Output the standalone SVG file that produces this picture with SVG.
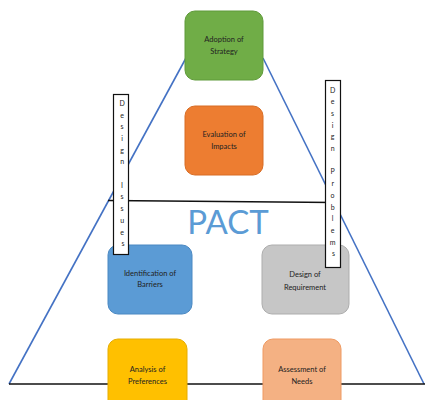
<svg xmlns="http://www.w3.org/2000/svg" width="425" height="400" viewBox="0 0 425 400">
  <style>
    .edge-blue { stroke: #4472c4; stroke-width: 1.6; fill: none; }
    .edge-black { stroke: #111; stroke-width: 1.6; fill: none; }
    .box { stroke-width: 1; }
    .label { font-family: "Lato", "Liberation Sans", sans-serif; font-size: 7.5px; fill: #222; text-anchor: middle; }
    .vbox { fill: #fff; stroke: #111; stroke-width: 1.2; }
    .vtext { font-family: "Lato", "Liberation Sans", sans-serif; font-size: 7px; fill: #222; text-anchor: middle; }
    .title { font-family: "Lato", "Liberation Sans", sans-serif; font-size: 33px; fill: #5b9bd5; text-anchor: middle; }
  </style>

  <rect width="425" height="400" fill="#fff"/>

  <!-- triangle outline and the cross bar -->
  <g id="connectors">
    <line class="edge-blue" x1="186" y1="58" x2="9" y2="384"/>
    <line class="edge-blue" x1="263" y1="58" x2="424" y2="384"/>
    <line class="edge-black" x1="9" y1="384" x2="425" y2="384"/>
    <line class="edge-black" x1="108" y1="200.5" x2="334" y2="202.5"/>
  </g>

  <text class="title" x="228" y="234">PACT</text>

  <g id="adoption">
    <rect class="box" x="185" y="11" width="78" height="69" rx="10" fill="#70ad47" stroke="#5f9a3a"/>
    <text class="label" x="224" y="42">Adoption of</text>
    <text class="label" x="224" y="53.5">Strategy</text>
  </g>

  <g id="evaluation">
    <rect class="box" x="185" y="106" width="78" height="69" rx="10" fill="#ed7d31" stroke="#d86d25"/>
    <text class="label" x="224" y="137">Evaluation of</text>
    <text class="label" x="224" y="148.5">Impacts</text>
  </g>

  <g id="identification">
    <rect class="box" x="108" y="245" width="84" height="69" rx="10" fill="#5b9bd5" stroke="#4a88c2"/>
    <text class="label" x="150" y="276">Identification of</text>
    <text class="label" x="150" y="287">Barriers</text>
  </g>

  <g id="design-requirement">
    <rect class="box" x="262" y="245" width="87" height="69" rx="10" fill="#c6c6c6" stroke="#adadad"/>
    <text class="label" x="305" y="277">Design of</text>
    <text class="label" x="305" y="289.5">Requirement</text>
  </g>

  <g id="analysis">
    <rect class="box" x="108" y="339" width="79" height="75" rx="10" fill="#ffc000" stroke="#e6ad00"/>
    <text class="label" x="147.5" y="372">Analysis of</text>
    <text class="label" x="147.5" y="384">Preferences</text>
  </g>

  <g id="assessment">
    <rect class="box" x="263" y="339" width="78" height="75" rx="10" fill="#f4b183" stroke="#ef9a62"/>
    <text class="label" x="302" y="372">Assessment of</text>
    <text class="label" x="302" y="384">Needs</text>
  </g>

  <!-- vertical caption boxes -->
  <g id="design-issues">
    <rect class="vbox" x="113.5" y="94.5" width="15" height="160"/>
    <text class="vtext" x="123">
      <tspan x="123" y="105.8">D</tspan>
      <tspan x="123" y="117.5">e</tspan>
      <tspan x="123" y="129.2">s</tspan>
      <tspan x="123" y="140.9">i</tspan>
      <tspan x="123" y="152.6">g</tspan>
      <tspan x="123" y="164.3">n</tspan>
      <tspan x="123" y="187.7">I</tspan>
      <tspan x="123" y="199.4">s</tspan>
      <tspan x="123" y="211.1">s</tspan>
      <tspan x="123" y="222.8">u</tspan>
      <tspan x="123" y="234.5">e</tspan>
      <tspan x="123" y="246.2">s</tspan>
    </text>
  </g>

  <g id="design-problems">
    <rect class="vbox" x="325.5" y="80.5" width="15" height="187"/>
    <text class="vtext" x="333.5">
      <tspan x="333.5" y="92.5">D</tspan>
      <tspan x="333.5" y="104.2">e</tspan>
      <tspan x="333.5" y="115.9">s</tspan>
      <tspan x="333.5" y="127.6">i</tspan>
      <tspan x="333.5" y="139.3">g</tspan>
      <tspan x="333.5" y="151">n</tspan>
      <tspan x="333.5" y="174.4">P</tspan>
      <tspan x="333.5" y="186.1">r</tspan>
      <tspan x="333.5" y="197.8">o</tspan>
      <tspan x="333.5" y="209.5">b</tspan>
      <tspan x="333.5" y="221.2">l</tspan>
      <tspan x="333.5" y="232.9">e</tspan>
      <tspan x="333.5" y="244.6">m</tspan>
      <tspan x="333.5" y="256.3">s</tspan>
    </text>
  </g>
</svg>
